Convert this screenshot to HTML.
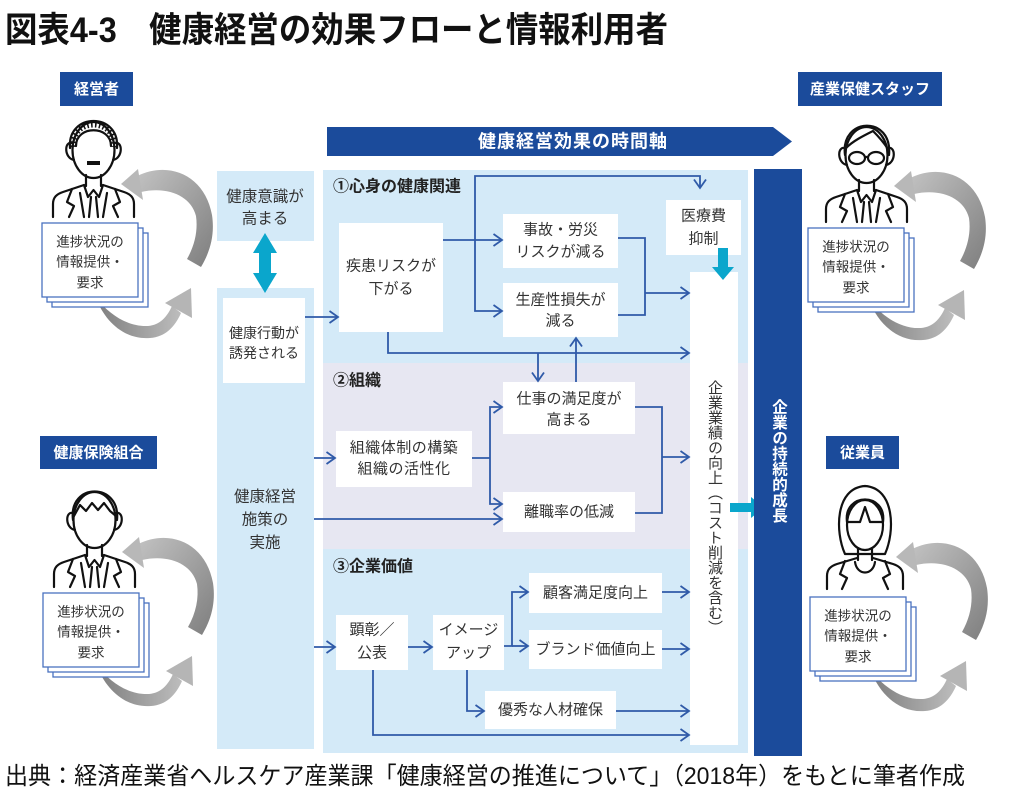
<!DOCTYPE html>
<html lang="ja"><head><meta charset="utf-8">
<style>
html,body{margin:0;padding:0;background:#fff;}
body{width:1024px;height:804px;position:relative;overflow:hidden;font-family:"Liberation Sans","Noto Sans CJK JP",sans-serif;}
svg text{font-family:"Liberation Sans","Noto Sans CJK JP",sans-serif;}
.v{position:absolute;writing-mode:vertical-rl;text-align:left;white-space:nowrap;}
</style></head><body>
<svg width="1024" height="804" viewBox="0 0 1024 804" xmlns="http://www.w3.org/2000/svg" style="position:absolute;left:0;top:0">
<defs>
<marker id="a" markerUnits="userSpaceOnUse" markerWidth="12" markerHeight="14" refX="10" refY="7" orient="auto"><path d="M1.5,1 L10,7 L1.5,13" fill="none" stroke="#2f5aa8" stroke-width="1.8"/></marker>
<linearGradient id="gu" x1="0" y1="0" x2="1" y2="1"><stop offset="0" stop-color="#c2c2c2"/><stop offset="1" stop-color="#7e7e7e"/></linearGradient>
<linearGradient id="gl" x1="0" y1="0" x2="1" y2="0"><stop offset="0" stop-color="#7e7e7e"/><stop offset="1" stop-color="#bdbdbd"/></linearGradient>
</defs>

<!-- Title -->
<text x="5" y="42" font-size="35" font-weight="bold" fill="#111" textLength="663" lengthAdjust="spacingAndGlyphs">図表4-3　健康経営の効果フローと情報利用者</text>
<!-- Source -->
<text x="5" y="784" font-size="24" fill="#111" textLength="960" lengthAdjust="spacingAndGlyphs">出典：経済産業省ヘルスケア産業課「健康経営の推進について」（2018年）をもとに筆者作成</text>

<!-- Labels -->
<rect x="60" y="72" width="73" height="34" fill="#1b4b9b"/>
<text x="96.5" y="89.5" font-size="15" font-weight="bold" fill="#fff" text-anchor="middle" dominant-baseline="central">経営者</text>
<rect x="798" y="72" width="144" height="34" fill="#1b4b9b"/>
<text x="870" y="89.5" font-size="15" font-weight="bold" fill="#fff" text-anchor="middle" dominant-baseline="central">産業保健スタッフ</text>
<rect x="40" y="436" width="117" height="33" fill="#1b4b9b"/>
<text x="98.5" y="453" font-size="15" font-weight="bold" fill="#fff" text-anchor="middle" dominant-baseline="central">健康保険組合</text>
<rect x="826" y="436" width="73" height="33" fill="#1b4b9b"/>
<text x="862.5" y="453" font-size="15" font-weight="bold" fill="#fff" text-anchor="middle" dominant-baseline="central">従業員</text>

<!-- Timeline arrow -->
<polygon points="327,127 773,127 792,141.5 773,156 327,156" fill="#1b4b9b"/>
<text x="573" y="141.5" font-size="18" font-weight="bold" fill="#fff" text-anchor="middle" dominant-baseline="central" letter-spacing="1">健康経営効果の時間軸</text>

<!-- Left column -->
<rect x="217" y="171" width="97" height="70" fill="#d4eaf8"/>
<text x="265" y="197" font-size="15.5" fill="#333" text-anchor="middle" dominant-baseline="central">健康意識が</text>
<text x="265" y="219" font-size="15.5" fill="#333" text-anchor="middle" dominant-baseline="central">高まる</text>
<rect x="217" y="288" width="97" height="461" fill="#d4eaf8"/>
<rect x="223" y="298" width="82" height="85" fill="#fff"/>
<text x="264" y="333" font-size="14" fill="#333" text-anchor="middle" dominant-baseline="central">健康行動が</text>
<text x="264" y="353" font-size="14" fill="#333" text-anchor="middle" dominant-baseline="central">誘発される</text>
<text x="265" y="497" font-size="15.5" fill="#333" text-anchor="middle" dominant-baseline="central">健康経営</text>
<text x="265" y="520" font-size="15.5" fill="#333" text-anchor="middle" dominant-baseline="central">施策の</text>
<text x="265" y="543" font-size="15.5" fill="#333" text-anchor="middle" dominant-baseline="central">実施</text>
<polygon points="265,233 277,253 271,253 271,273 277,273 265,293 253,273 259,273 259,253 253,253" fill="#0aa6cc"/>

<!-- Central sections -->
<rect x="323" y="170" width="425" height="193" fill="#d4eaf8"/>
<rect x="323" y="363" width="425" height="186" fill="#e7e7f2"/>
<rect x="323" y="549" width="425" height="204" fill="#d4eaf8"/>
<rect x="690" y="272" width="48" height="473" fill="#fff"/>

<text x="333" y="187" font-size="16" font-weight="bold" fill="#222" dominant-baseline="central">①心身の健康関連</text>
<text x="333" y="381" font-size="16" font-weight="bold" fill="#222" dominant-baseline="central">②組織</text>
<text x="333" y="567" font-size="16" font-weight="bold" fill="#222" dominant-baseline="central">③企業価値</text>

<!-- Section 1 boxes -->
<rect x="339" y="223" width="104" height="109" fill="#fff"/>
<text x="391" y="266" font-size="15" fill="#333" text-anchor="middle" dominant-baseline="central">疾患リスクが</text>
<text x="391" y="289" font-size="15" fill="#333" text-anchor="middle" dominant-baseline="central">下がる</text>
<rect x="503" y="214" width="115" height="54" fill="#fff"/>
<text x="560.5" y="230" font-size="15" fill="#333" text-anchor="middle" dominant-baseline="central">事故・労災</text>
<text x="560.5" y="252" font-size="15" fill="#333" text-anchor="middle" dominant-baseline="central">リスクが減る</text>
<rect x="503" y="283" width="115" height="54" fill="#fff"/>
<text x="560.5" y="300" font-size="15" fill="#333" text-anchor="middle" dominant-baseline="central">生産性損失が</text>
<text x="560.5" y="321" font-size="15" fill="#333" text-anchor="middle" dominant-baseline="central">減る</text>
<rect x="666" y="200" width="75" height="55" fill="#fff"/>
<text x="703.5" y="216" font-size="15" fill="#333" text-anchor="middle" dominant-baseline="central">医療費</text>
<text x="703.5" y="239" font-size="15" fill="#333" text-anchor="middle" dominant-baseline="central">抑制</text>

<!-- Section 2 boxes -->
<rect x="503" y="382" width="132" height="52" fill="#fff"/>
<text x="569" y="399" font-size="15" fill="#333" text-anchor="middle" dominant-baseline="central">仕事の満足度が</text>
<text x="569" y="420" font-size="15" fill="#333" text-anchor="middle" dominant-baseline="central">高まる</text>
<rect x="336" y="431" width="136" height="56" fill="#fff"/>
<text x="404" y="448" font-size="15" fill="#333" text-anchor="middle" dominant-baseline="central" letter-spacing="0.5">組織体制の構築</text>
<text x="404" y="469" font-size="15" fill="#333" text-anchor="middle" dominant-baseline="central" letter-spacing="0.5">組織の活性化</text>
<rect x="503" y="492" width="132" height="40" fill="#fff"/>
<text x="569" y="512" font-size="15" fill="#333" text-anchor="middle" dominant-baseline="central">離職率の低減</text>

<!-- Section 3 boxes -->
<rect x="529" y="573" width="133" height="40" fill="#fff"/>
<text x="595.5" y="593" font-size="15" fill="#333" text-anchor="middle" dominant-baseline="central">顧客満足度向上</text>
<rect x="529" y="630" width="133" height="39" fill="#fff"/>
<text x="595.5" y="649.5" font-size="15" fill="#333" text-anchor="middle" dominant-baseline="central">ブランド価値向上</text>
<rect x="336" y="615" width="72" height="55" fill="#fff"/>
<text x="372" y="630" font-size="15" fill="#333" text-anchor="middle" dominant-baseline="central">顕彰／</text>
<text x="372" y="653" font-size="15" fill="#333" text-anchor="middle" dominant-baseline="central">公表</text>
<rect x="433" y="615" width="71" height="55" fill="#fff"/>
<text x="468.5" y="630" font-size="15" fill="#333" text-anchor="middle" dominant-baseline="central">イメージ</text>
<text x="468.5" y="653" font-size="15" fill="#333" text-anchor="middle" dominant-baseline="central">アップ</text>
<rect x="485" y="691" width="131" height="38" fill="#fff"/>
<text x="550.5" y="710" font-size="15" fill="#333" text-anchor="middle" dominant-baseline="central">優秀な人材確保</text>

<!-- Connectors -->
<g fill="none" stroke="#2f5aa8" stroke-width="1.8">
<path d="M305,317 H338" marker-end="url(#a)"/>
<path d="M443,240 H502" marker-end="url(#a)"/>
<path d="M475,240 V176 H700 V188" marker-end="url(#a)"/>
<path d="M475,240 V311 H502" marker-end="url(#a)"/>
<path d="M388,332 V353 H689" marker-end="url(#a)"/>
<path d="M618,238 H645 V315 H618"/>
<path d="M645,293 H689" marker-end="url(#a)"/>
<path d="M538,353 V381" marker-end="url(#a)"/>
<path d="M576,382 V338" marker-end="url(#a)"/>

<path d="M314,458 H335" marker-end="url(#a)"/>
<path d="M472,458 H490"/>
<path d="M490,458 V407 H502" marker-end="url(#a)"/>
<path d="M490,458 V504 H502" marker-end="url(#a)"/>
<path d="M314,519 H502" marker-end="url(#a)"/>
<path d="M635,407 H662 V513 H635"/>
<path d="M662,457 H689" marker-end="url(#a)"/>

<path d="M314,647 H335" marker-end="url(#a)"/>
<path d="M408,647 H432" marker-end="url(#a)"/>
<path d="M504,646 H512 V592 H528" marker-end="url(#a)"/>
<path d="M512,646 H528" marker-end="url(#a)"/>
<path d="M662,592 H689" marker-end="url(#a)"/>
<path d="M662,649 H689" marker-end="url(#a)"/>
<path d="M467,670 V711 H484" marker-end="url(#a)"/>
<path d="M616,711 H689" marker-end="url(#a)"/>
<path d="M373,670 V735 H689" marker-end="url(#a)"/>
</g>

<!-- Cyan arrows -->
<polygon points="718,248 728,248 728,267 734,267 723,280 712,267 718,267" fill="#0aa6cc"/>
<polygon points="730,503 751,503 751,497 764,507.5 751,518 751,512 730,512" fill="#0aa6cc"/>

<!-- Right dark bar -->
<rect x="754" y="169" width="48" height="587" fill="#1b4b9b"/>

<!-- ===== Gray cycle arrows ===== -->
<g id="cyc1">
<path d="M137,176 C170,160 205,176 212,215 C215,235 210,252 201,267 L187,259 C195,245 198,230 196,216 C191,196 168,186 141,192 Z" fill="url(#gu)"/>
<path d="M138,169 L121,184 L143,200 Z" fill="#b8b8b8"/>
<path d="M96,298 C105,322 125,340 150,338 C165,337 175,327 181,313 L172,306 C167,317 160,325 148,326 C128,327 110,315 96,298 Z" fill="url(#gl)"/>
<path d="M165,303 L191,288 L192,318 Z" fill="#b5b5b5"/>
</g>
<g transform="translate(773,2)">
<path d="M137,176 C170,160 205,176 212,215 C215,235 210,252 201,267 L187,259 C195,245 198,230 196,216 C191,196 168,186 141,192 Z" fill="url(#gu)"/>
<path d="M138,169 L121,184 L143,200 Z" fill="#b8b8b8"/>
<path d="M96,298 C105,322 125,340 150,338 C165,337 175,327 181,313 L172,306 C167,317 160,325 148,326 C128,327 110,315 96,298 Z" fill="url(#gl)"/>
<path d="M165,303 L191,288 L192,318 Z" fill="#b5b5b5"/>
</g>
<g transform="translate(1,368)">
<path d="M137,176 C170,160 205,176 212,215 C215,235 210,252 201,267 L187,259 C195,245 198,230 196,216 C191,196 168,186 141,192 Z" fill="url(#gu)"/>
<path d="M138,169 L121,184 L143,200 Z" fill="#b8b8b8"/>
<path d="M96,298 C105,322 125,340 150,338 C165,337 175,327 181,313 L172,306 C167,317 160,325 148,326 C128,327 110,315 96,298 Z" fill="url(#gl)"/>
<path d="M165,303 L191,288 L192,318 Z" fill="#b5b5b5"/>
</g>
<g transform="translate(775,373)">
<path d="M137,176 C170,160 205,176 212,215 C215,235 210,252 201,267 L187,259 C195,245 198,230 196,216 C191,196 168,186 141,192 Z" fill="url(#gu)"/>
<path d="M138,169 L121,184 L143,200 Z" fill="#b8b8b8"/>
<path d="M96,298 C105,322 125,340 150,338 C165,337 175,327 181,313 L172,306 C167,317 160,325 148,326 C128,327 110,315 96,298 Z" fill="url(#gl)"/>
<path d="M165,303 L191,288 L192,318 Z" fill="#b5b5b5"/>
</g>

<!-- ===== People ===== -->
<!-- Manager -->
<g fill="none" stroke="#111" stroke-width="2.2" stroke-linejoin="round" stroke-linecap="round">
<ellipse cx="93.5" cy="150" rx="21" ry="28" fill="#fff"/>
<path d="M72,143 C64,141 64,158 74,160 M115,143 C123,141 123,158 113,160"/>
<path d="M70,148 C67,112 120,112 117,148 M76,146 C76,125 111,125 111,146"/>
<path d="M73,147 C71,117 116,117 114,147" stroke-width="6" stroke-dasharray="1.6 2.4" stroke-linecap="butt"/>
<rect x="87" y="161" width="13" height="4" fill="#111" stroke="none"/>
<path d="M86,175 V186 M101,175 V186"/>
<path d="M53,217 V204 C53,197 57,194 63,192 L84,185 M134,217 V204 C134,197 130,194 124,192 L103,185"/>
<path d="M84,185 L88,197 L93.5,190 L99,197 L103,185"/>
<path d="M91,197 L89,217 M96,197 L98,217"/>
<path d="M72,189 L67,202 L74,206 L69,217 M115,189 L120,202 L113,206 L118,217"/>
<path d="M80,193 L84,217 M107,193 L103,217"/>
</g>

<!-- Staff -->
<g transform="translate(773,5)" fill="none" stroke="#111" stroke-width="2.2" stroke-linejoin="round" stroke-linecap="round">
<ellipse cx="93.5" cy="150" rx="21" ry="28" fill="#fff"/>
<path d="M72,143 C64,141 64,158 74,160 M115,143 C123,141 123,158 113,160"/>
<path d="M72,150 C67,112 120,110 116,150"/>
<path d="M73,143 C80,136 90,131 100,126 C106,132 111,138 115,144"/>
<ellipse cx="84" cy="153" rx="8" ry="6" fill="#fff"/>
<ellipse cx="103" cy="153" rx="8" ry="6" fill="#fff"/>
<path d="M92,152 H95"/>
<path d="M86,175 V186 M101,175 V186"/>
<path d="M53,217 V204 C53,197 57,194 63,192 L84,185 M134,217 V204 C134,197 130,194 124,192 L103,185"/>
<path d="M84,185 L88,197 L93.5,190 L99,197 L103,185"/>
<path d="M91,197 L89,217 M96,197 L98,217"/>
<path d="M72,189 L67,202 L74,206 L69,217 M115,189 L120,202 L113,206 L118,217"/>
<path d="M80,193 L84,217 M107,193 L103,217"/>
</g>

<!-- Health insurance -->
<g transform="translate(1,370)" fill="none" stroke="#111" stroke-width="2.2" stroke-linejoin="round" stroke-linecap="round">
<ellipse cx="93.5" cy="150" rx="21" ry="28" fill="#fff"/>
<path d="M72,143 C64,141 64,158 74,160 M115,143 C123,141 123,158 113,160"/>
<path d="M72,150 C67,112 120,112 116,150"/>
<path d="M73,146 L79,135 L85,141 L91,133 L97,140 L103,133 L109,141 L115,146"/>
<path d="M86,175 V186 M101,175 V186"/>
<path d="M53,217 V204 C53,197 57,194 63,192 L84,185 M134,217 V204 C134,197 130,194 124,192 L103,185"/>
<path d="M84,185 L88,197 L93.5,190 L99,197 L103,185"/>
<path d="M91,197 L89,217 M96,197 L98,217"/>
<path d="M72,189 L67,202 L74,206 L69,217 M115,189 L120,202 L113,206 L118,217"/>
<path d="M80,193 L84,217 M107,193 L103,217"/>
</g>

<!-- Employee (woman) -->
<g transform="translate(771,372)" fill="none" stroke="#111" stroke-width="2.2" stroke-linejoin="round" stroke-linecap="round">
<path d="M74,182 C64,160 64,116 94,114 C124,116 124,160 114,182 Z" fill="#fff"/>
<ellipse cx="94" cy="153" rx="18" ry="25" fill="#fff"/>
<path d="M76,150 L89,150 L94,135 L99,150 L112,150"/>
<path d="M76,150 C72,120 116,120 112,150"/>
<path d="M87,176 V188 M101,176 V188"/>
<path d="M56,217 V204 C56,197 60,194 66,192 L86,186 M132,217 V204 C132,197 128,194 122,192 L102,186"/>
<path d="M84,190 C86,204 102,204 104,190"/>
<path d="M74,189 L69,202 L76,206 L71,217 M114,189 L119,202 L112,206 L117,217"/>
</g>

<!-- ===== Doc stacks ===== -->
<g>
<rect x="52" y="233" width="96" height="74" fill="#fff" stroke="#4a72c0" stroke-width="1.3"/>
<rect x="47" y="228" width="96" height="74" fill="#fff" stroke="#4a72c0" stroke-width="1.3"/>
<rect x="42" y="223" width="96" height="74" fill="#fff" stroke="#4a72c0" stroke-width="1.3"/>
<text x="90" y="242" font-size="13.5" fill="#333" text-anchor="middle" dominant-baseline="central">進捗状況の</text>
<text x="90" y="262" font-size="13.5" fill="#333" text-anchor="middle" dominant-baseline="central">情報提供・</text>
<text x="90" y="283" font-size="13.5" fill="#333" text-anchor="middle" dominant-baseline="central">要求</text>
</g>
<g transform="translate(766,5)">
<rect x="52" y="233" width="96" height="74" fill="#fff" stroke="#4a72c0" stroke-width="1.3"/>
<rect x="47" y="228" width="96" height="74" fill="#fff" stroke="#4a72c0" stroke-width="1.3"/>
<rect x="42" y="223" width="96" height="74" fill="#fff" stroke="#4a72c0" stroke-width="1.3"/>
<text x="90" y="242" font-size="13.5" fill="#333" text-anchor="middle" dominant-baseline="central">進捗状況の</text>
<text x="90" y="262" font-size="13.5" fill="#333" text-anchor="middle" dominant-baseline="central">情報提供・</text>
<text x="90" y="283" font-size="13.5" fill="#333" text-anchor="middle" dominant-baseline="central">要求</text>
</g>
<g transform="translate(1,370)">
<rect x="52" y="233" width="96" height="74" fill="#fff" stroke="#4a72c0" stroke-width="1.3"/>
<rect x="47" y="228" width="96" height="74" fill="#fff" stroke="#4a72c0" stroke-width="1.3"/>
<rect x="42" y="223" width="96" height="74" fill="#fff" stroke="#4a72c0" stroke-width="1.3"/>
<text x="90" y="242" font-size="13.5" fill="#333" text-anchor="middle" dominant-baseline="central">進捗状況の</text>
<text x="90" y="262" font-size="13.5" fill="#333" text-anchor="middle" dominant-baseline="central">情報提供・</text>
<text x="90" y="283" font-size="13.5" fill="#333" text-anchor="middle" dominant-baseline="central">要求</text>
</g>
<g transform="translate(768,374)">
<rect x="52" y="233" width="96" height="74" fill="#fff" stroke="#4a72c0" stroke-width="1.3"/>
<rect x="47" y="228" width="96" height="74" fill="#fff" stroke="#4a72c0" stroke-width="1.3"/>
<rect x="42" y="223" width="96" height="74" fill="#fff" stroke="#4a72c0" stroke-width="1.3"/>
<text x="90" y="242" font-size="13.5" fill="#333" text-anchor="middle" dominant-baseline="central">進捗状況の</text>
<text x="90" y="262" font-size="13.5" fill="#333" text-anchor="middle" dominant-baseline="central">情報提供・</text>
<text x="90" y="283" font-size="13.5" fill="#333" text-anchor="middle" dominant-baseline="central">要求</text>
</g>
</svg>

<div class="v" style="left:690px;top:380px;width:48px;line-height:48px;font-size:15px;color:#333;">企業業績の向上（コスト削減を含む）</div>
<div class="v" style="left:754px;top:399px;width:48px;line-height:48px;font-size:15.5px;font-weight:bold;color:#fff;">企業の持続的成長</div>
</body></html>
